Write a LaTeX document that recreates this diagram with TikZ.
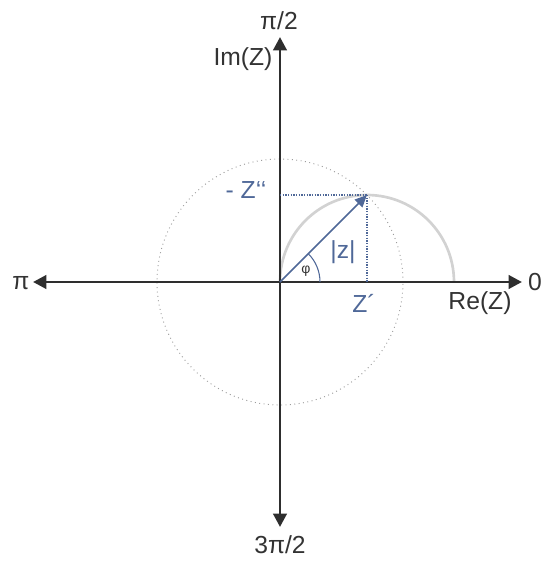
\documentclass[tikz,border=0pt]{standalone}
\usepackage{fontspec}
\setmainfont{Liberation Sans}
\usetikzlibrary{arrows.meta}
\definecolor{axisedge}{HTML}{2E2E2E}
\definecolor{axistext}{HTML}{333333}
\definecolor{vecblue}{HTML}{4F6898}
\definecolor{halfgray}{HTML}{D2D2D2}
\definecolor{circgray}{HTML}{9C9C9C}

\begin{document}
\begin{tikzpicture}[x=0.75pt, y=0.75pt,
  axis/.style={draw=axisedge, line width=2.2pt,
               {Triangle[length=10pt, width=10pt]}-{Triangle[length=10pt, width=10pt]}},
  vec/.style={draw=vecblue, line width=1.3pt, -{Triangle[length=9pt, width=8pt]}},
  proj/.style={draw=vecblue, line width=1.1pt, dash pattern=on 1pt off 1pt},
  unitc/.style={draw=circgray, line width=0.7pt, dash pattern=on 0.7pt off 2.6pt},
  half/.style={draw=halfgray, line width=2pt},
  ang/.style={draw=vecblue, line width=0.8pt},
  lab/.style={text=axistext, font=\fontsize{18.5}{22}\selectfont, inner sep=0pt},
  blab/.style={text=vecblue, font=\fontsize{18.5}{22}\selectfont, inner sep=0pt},
]
\useasboundingbox (-280,-279) rectangle (262,282);
% ================= points ====================================================
\coordinate (O) at (0,0);
\coordinate (west) at (-247,0);
\coordinate (east) at (242,0);
\coordinate (north) at (0,245);
\coordinate (south) at (0,-245);
\coordinate (Z) at (45:123);
\coordinate (Zre) at (Z |- O);
\coordinate (Zim) at (O |- Z);
% ================= circles ===================================================
\draw[unitc] (O) circle[radius=123];
\draw[half] (O) arc[start angle=180, end angle=0, radius=87];
% ================= axes ======================================================
\draw[axis] (west) -- (east);
\draw[axis] (south) -- (north);
% ================= vector + projections =====================================
\draw[proj] (Zim) -- (Z);
\draw[proj] (Z) -- (Zre);
\draw[vec] (O) -- (Z);
\draw[ang] ([shift={(0:40)}]O) arc[start angle=0, end angle=45, radius=40];
% ================= labels ====================================================
\node[lab] (top) at (-1,261) {π/2};
\node[lab] (im) at (-37,223) {Im(Z)};
\node[lab] (left) at (-259,-1) {π};
\node[lab] (right) at (255,0) {0};
\node[lab] (re) at (200,-21) {Re(Z)};
\node[lab] (bottom) at (0,-263) {3π/2};
\node[blab] (zre) at (84,-21) {Z\symbol{"00B4}};
\node[blab] (zim) at (-34,92) {- Z\symbol{"0060}\symbol{"0060}};
\node[blab] (mod) at (63,30) {|z|};
\node[text=axistext, font=\fontsize{10.5}{12}\selectfont, inner sep=0pt] (phi) at (26,11) {φ};
\end{tikzpicture}
\end{document}
